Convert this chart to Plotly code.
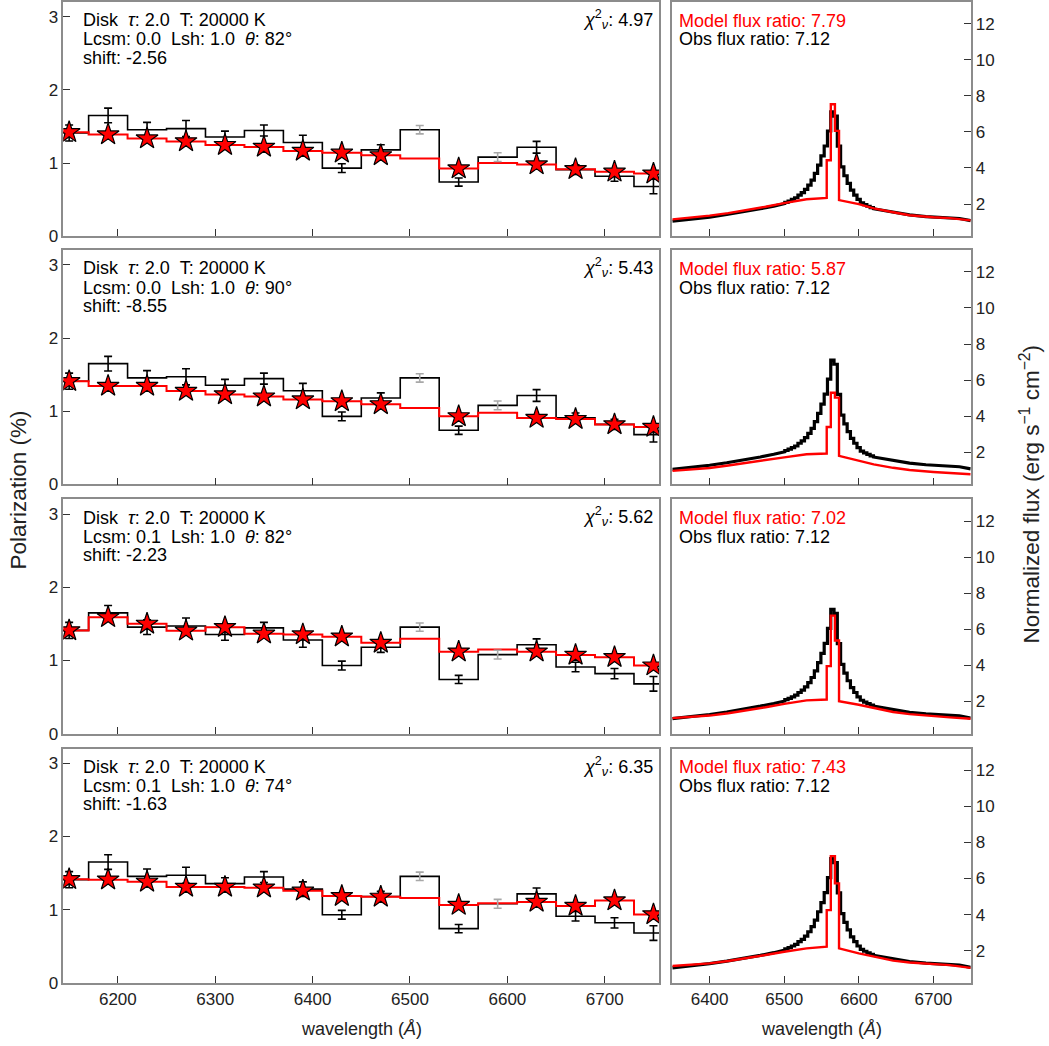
import plotly.graph_objects as go

W, H = 1049, 1046

# ---------------- data ----------------
bin_centers = [6150, 6190, 6230, 6270, 6310, 6350, 6390, 6430,
               6470, 6510, 6550, 6590, 6630, 6670, 6710, 6750]
bin_half_width = 20
obs_pol = [1.41, 1.65, 1.455, 1.47, 1.355, 1.445, 1.28, 0.93,
           1.18, 1.455, 0.74, 1.08, 1.215, 0.91, 0.82, 0.68]
obs_err = [0.11, 0.10, 0.10, 0.11, 0.08, 0.075, 0.10, 0.06,
           0.07, 0.057, 0.056, 0.06, 0.08, 0.065, 0.07, 0.10]
masked_bins = [6510, 6590]

model_pol_1 = [1.42, 1.39, 1.335, 1.295, 1.245, 1.22, 1.165, 1.14,
               1.105, 1.06, 0.925, 1.00, 0.98, 0.915, 0.88, 0.855]
model_pol_2 = [1.41, 1.345, 1.345, 1.276, 1.23, 1.20, 1.16, 1.135,
               1.094, 1.044, 0.93, 0.98, 0.907, 0.893, 0.82, 0.784]
model_pol_3 = [1.41, 1.59, 1.50, 1.405, 1.455, 1.365, 1.355, 1.325,
               1.24, 1.295, 1.12, 1.15, 1.12, 1.075, 1.045, 0.93]
model_pol_4 = [1.415, 1.41, 1.38, 1.31, 1.31, 1.30, 1.258, 1.185,
               1.175, 1.16, 1.063, 1.086, 1.105, 1.05, 1.125, 0.935]

# observed normalized flux: smooth wings + binned core
obs_wing_l_wave = [6350, 6378, 6400, 6423, 6450, 6468, 6486, 6500.8]
obs_wing_l_flux = [1.05, 1.16, 1.28, 1.42, 1.59, 1.74, 1.89, 2.03]
obs_core_start = 6500.8
obs_core_width = 4.4
obs_core_flux = [2.10, 2.17, 2.26, 2.35, 2.50, 2.63, 2.81, 3.05, 3.33, 3.70,
                 4.16, 4.67, 5.22, 6.05, 7.11, 6.88, 5.21, 4.06, 3.57, 3.15,
                 2.77, 2.50, 2.26, 2.07, 1.97, 1.88, 1.80]
obs_wing_r_wave = [6619.6, 6630, 6646, 6668, 6690, 6705, 6722, 6735, 6750]
obs_wing_r_flux = [1.74, 1.66, 1.53, 1.40, 1.31, 1.27, 1.25, 1.20, 1.08]

# model normalized flux
model_wing_l_wave = [6350, 6375, 6400, 6425, 6450, 6475, 6500, 6530, 6557]
model_core_start = 6557.0
model_core_width = 5.5
model_wing_r_wave = [6573.5, 6600, 6620, 6646, 6668, 6700, 6722, 6750]

model_wing_l_1 = [1.15, 1.24, 1.36, 1.50, 1.66, 1.85, 2.05, 2.27, 2.34]
model_core_1 = [4.43, 7.53, 6.06]
model_wing_r_1 = [2.22, 2.00, 1.76, 1.55, 1.38, 1.27, 1.22, 1.10]

model_wing_l_2 = [0.97, 1.04, 1.13, 1.27, 1.43, 1.58, 1.72, 1.89, 1.93]
model_core_2 = [3.40, 5.30, 5.03]
model_wing_r_2 = [1.80, 1.52, 1.33, 1.14, 1.02, 0.91, 0.85, 0.78]

model_wing_l_3 = [1.08, 1.14, 1.22, 1.35, 1.50, 1.68, 1.87, 2.06, 2.11]
model_core_3 = [3.96, 6.76, 5.38]
model_wing_r_3 = [2.02, 1.82, 1.66, 1.42, 1.30, 1.17, 1.12, 1.04]

model_wing_l_4 = [1.15, 1.21, 1.30, 1.43, 1.58, 1.76, 1.94, 2.13, 2.22]
model_core_4 = [4.25, 7.24, 5.73]
model_wing_r_4 = [2.13, 1.85, 1.68, 1.45, 1.35, 1.26, 1.20, 1.05]

lcsm = ["0.0", "0.0", "0.1", "0.1"]
theta = ["82", "90", "82", "74"]
shift = ["-2.56", "-8.55", "-2.23", "-1.63"]
chi2 = ["4.97", "5.43", "5.62", "6.35"]
model_ratio = ["7.79", "5.87", "7.02", "7.43"]
obs_ratio = "7.12"

model_pols = [model_pol_1, model_pol_2, model_pol_3, model_pol_4]
model_fluxes = [(model_wing_l_1, model_core_1, model_wing_r_1),
                (model_wing_l_2, model_core_2, model_wing_r_2),
                (model_wing_l_3, model_core_3, model_wing_r_3),
                (model_wing_l_4, model_core_4, model_wing_r_4)]

# ---------------- helpers ----------------
def build_flux(wl_w, wl_f, start, width, core, wr_w, wr_f):
    xs = list(wl_w)
    ys = list(wl_f)
    for k, v in enumerate(core):
        xs += [start + k * width, start + (k + 1) * width]
        ys += [v, v]
    xs += list(wr_w)
    ys += list(wr_f)
    return xs, ys

def step_xy(centers, vals, hw):
    xs = [c - hw for c in centers] + [centers[-1] + hw]
    ys = list(vals) + [vals[-1]]
    return xs, ys

FONT = "Liberation Sans, Arial, sans-serif"
SPINE = "#8c8c8c"
TICKC = "#333333"
TXT = "#222222"

ROW_TOP = [2.0, 250.0, 499.0, 748.0]
ROW_H = 234.0
LX0, LX1 = 63.3, 659.3
RX0, RX1 = 672.3, 970.7
VFIX = 1.0105  # vertical compensation for the rendered page

def px(x):
    return x / W

def py(y):
    return 1 - (y * VFIX) / H

fig = go.Figure()
layout = dict(width=W, height=H, margin=dict(l=0, r=0, t=0, b=0),
              paper_bgcolor="white", plot_bgcolor="white",
              showlegend=False, font=dict(family=FONT, size=17, color=TXT))
annotations = []

obs_fx, obs_fy = build_flux(obs_wing_l_wave, obs_wing_l_flux, obs_core_start,
                            obs_core_width, obs_core_flux,
                            obs_wing_r_wave, obs_wing_r_flux)

for i in range(4):
    lx = f"x{2*i+1}"; ly = f"y{2*i+1}"
    rx = f"x{2*i+2}"; ry = f"y{2*i+2}"
    top = ROW_TOP[i]; bot = top + ROW_H
    ydom = [py(bot), py(top)]
    last = (i == 3)
    common = dict(showline=True, mirror=True, linecolor=SPINE, linewidth=1.5,
                  showgrid=False, zeroline=False, ticks="inside", ticklen=7,
                  tickwidth=1.3, tickcolor=TICKC,
                  tickfont=dict(family=FONT, size=17, color=TXT))
    layout[f"xaxis{2*i+1}"] = dict(common, domain=[px(LX0), px(LX1)],
                                   range=[6144, 6756], anchor=ly,
                                   tickvals=[6200, 6300, 6400, 6500, 6600, 6700],
                                   showticklabels=last)
    layout[f"yaxis{2*i+1}"] = dict(common, domain=ydom, range=[0, 3.2],
                                   anchor=lx, tickvals=[0, 1, 2, 3])
    layout[f"xaxis{2*i+2}"] = dict(common, domain=[px(RX0), px(RX1)],
                                   range=[6350, 6750], anchor=ry,
                                   tickvals=[6400, 6500, 6600, 6700],
                                   showticklabels=last)
    layout[f"yaxis{2*i+2}"] = dict(common, domain=ydom, range=[0.22, 13.2],
                                   anchor=rx, side="right",
                                   tickvals=[2, 4, 6, 8, 10, 12])

    sx, sy = step_xy(bin_centers, obs_pol, bin_half_width)
    fig.add_trace(go.Scatter(x=sx, y=sy, mode="lines", line_shape="hv",
                             line=dict(color="black", width=1.6),
                             xaxis=lx, yaxis=ly, hoverinfo="skip"))
    mx, my = step_xy(bin_centers, model_pols[i], bin_half_width)
    fig.add_trace(go.Scatter(x=mx, y=my, mode="lines", line_shape="hv",
                             line=dict(color="#ff0000", width=2),
                             xaxis=lx, yaxis=ly, hoverinfo="skip"))
    for grp, col in ((False, "black"), (True, "#a8a8a8")):
        xs = [c for c in bin_centers if (c in masked_bins) == grp]
        ys = [v for c, v in zip(bin_centers, obs_pol) if (c in masked_bins) == grp]
        es = [e for c, e in zip(bin_centers, obs_err) if (c in masked_bins) == grp]
        fig.add_trace(go.Scatter(x=xs, y=ys, mode="markers",
                                 marker=dict(size=1, color=col),
                                 error_y=dict(type="data", array=es, color=col,
                                              thickness=1.6, width=4),
                                 xaxis=lx, yaxis=ly, hoverinfo="skip"))
    stx = [c for c in bin_centers if c not in masked_bins]
    sty = [v for c, v in zip(bin_centers, model_pols[i]) if c not in masked_bins]
    fig.add_trace(go.Scatter(x=stx, y=sty, mode="markers",
                             marker=dict(symbol="star", size=16.5, color="#ff0000",
                                         line=dict(color="black", width=1.2)),
                             xaxis=lx, yaxis=ly, hoverinfo="skip"))

    fig.add_trace(go.Scatter(x=obs_fx, y=obs_fy, mode="lines",
                             line=dict(color="black", width=3.2),
                             xaxis=rx, yaxis=ry, hoverinfo="skip"))
    wl, core, wr = model_fluxes[i]
    mfx, mfy = build_flux(model_wing_l_wave, wl, model_core_start,
                          model_core_width, core, model_wing_r_wave, wr)
    fig.add_trace(go.Scatter(x=mfx, y=mfy, mode="lines",
                             line=dict(color="#ff0000", width=2.4),
                             xaxis=rx, yaxis=ry, hoverinfo="skip"))

    nb = "\u00a0"
    lines = [f"Disk{nb}{nb}<i>τ</i>: 2.0{nb}{nb}T: 20000 K",
             f"Lcsm: {lcsm[i]}{nb}{nb}Lsh: 1.0{nb}{nb}<i>θ</i>: {theta[i]}°",
             f"shift: {shift[i]}"]
    for t, off in zip(lines, [18.2, 37.3, 55.8]):
        annotations.append(dict(text=t, x=px(80.5), y=py(top + off),
                                xref="paper", yref="paper", xanchor="left",
                                yanchor="middle", showarrow=False,
                                font=dict(family=FONT, size=18, color="black")))
    annotations.append(dict(text=f"<i>χ</i><sup>2</sup><sub><i>ν</i></sub>: {chi2[i]}",
                            x=px(655), y=py(top + 17.5), xref="paper", yref="paper",
                            xanchor="right", yanchor="middle", showarrow=False,
                            font=dict(family=FONT, size=18, color="black")))
    annotations.append(dict(text=f"Model flux ratio: {model_ratio[i]}",
                            x=px(677), y=py(top + 18.7), xref="paper", yref="paper",
                            xanchor="left", yanchor="middle", showarrow=False,
                            font=dict(family=FONT, size=18, color="#ff0000")))
    annotations.append(dict(text=f"Obs flux ratio: {obs_ratio}",
                            x=px(677), y=py(top + 37.3), xref="paper", yref="paper",
                            xanchor="left", yanchor="middle", showarrow=False,
                            font=dict(family=FONT, size=18, color="black")))

annotations.append(dict(text="Polarization (%)", x=px(18), y=py(490),
                        xref="paper", yref="paper", textangle=-90,
                        xanchor="center", yanchor="middle", showarrow=False,
                        font=dict(family=FONT, size=22.5, color=TXT)))
annotations.append(dict(text="Normalized flux (erg s<sup>−1</sup> cm<sup>−2</sup>)",
                        x=px(1030), y=py(494), xref="paper", yref="paper",
                        textangle=-90, xanchor="center", yanchor="middle",
                        showarrow=False,
                        font=dict(family=FONT, size=22.5, color=TXT)))
for cx in [(LX0 + LX1) / 2, (RX0 + RX1) / 2]:
    annotations.append(dict(text="wavelength (<i>Å</i>)", x=px(cx), y=py(1028),
                            xref="paper", yref="paper", xanchor="center",
                            yanchor="middle", showarrow=False,
                            font=dict(family=FONT, size=18, color=TXT)))

layout["annotations"] = annotations
fig.update_layout(**layout)

fig.write_html("out.html", config={"displayModeBar": False},
               post_script="document.body.style.margin='0px';"
                           "document.body.style.overflow='hidden';"
                           "document.documentElement.style.overflow='hidden';")
